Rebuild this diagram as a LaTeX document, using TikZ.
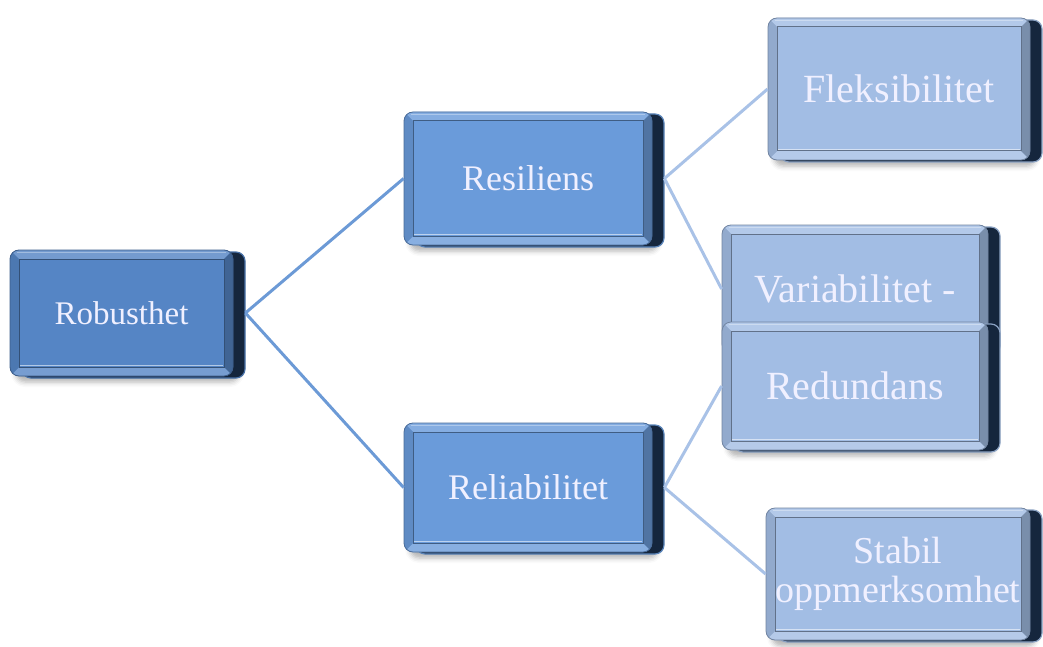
\documentclass[tikz,border=0pt]{standalone}
\usepackage{fontspec}
\setmainfont{Liberation Serif}
\usetikzlibrary{shadows,shadows.blur,calc}
\definecolor{lvA}{HTML}{5585C5}
\definecolor{lvB}{HTML}{6A9BDA}
\definecolor{lvC}{HTML}{A2BDE4}
\definecolor{ext}{HTML}{15263D}
\definecolor{lnA}{HTML}{6C9AD6}
\definecolor{lnB}{HTML}{A9C2E7}
\tikzset{
  bevelbox/.style={
    rounded corners=9pt, fill=#1, draw=#1!70!black, line width=0.8pt,
    text=white!94!blue, align=center, inner sep=0pt,
    blur shadow={shadow xshift=6pt, shadow yshift=-6pt, shadow blur radius=5pt, shadow opacity=30},
    general shadow={shadow xshift=12pt, shadow yshift=-2pt, fill=ext, draw=#1!85!black, line width=1.2pt},
    path picture={
      \path (path picture bounding box.south west) coordinate (sw)
            (path picture bounding box.north east) coordinate (ne);
      \fill[sharp corners, #1!82!white] (sw|-ne) -- (ne) -- ($(ne)+(-9pt,-9pt)$) -- ($(sw|-ne)+(9pt,-9pt)$) -- cycle;
      \fill[sharp corners, #1!80!white] (sw) -- (ne|-sw) -- ($(ne|-sw)+(-9pt,9pt)$) -- ($(sw)+(9pt,9pt)$) -- cycle;
      \fill[sharp corners, #1!90!black] (sw) -- (sw|-ne) -- ($(sw|-ne)+(9pt,-9pt)$) -- ($(sw)+(9pt,9pt)$) -- cycle;
      \fill[sharp corners, #1!75!black] (ne|-sw) -- (ne) -- ($(ne)+(-9pt,-9pt)$) -- ($(ne|-sw)+(-9pt,9pt)$) -- cycle;
      \draw[sharp corners, #1!60!black, line width=1pt] ($(sw)+(9pt,9pt)$) rectangle ($(ne)+(-9pt,-9pt)$);
      \draw[sharp corners, white!55!#1, line width=1.6pt] ($(sw)+(10pt,10.5pt)$) -- ($(ne|-sw)+(-10pt,10.5pt)$);
      \draw[sharp corners, white!45!#1, line width=1pt] ($(sw|-ne)+(7pt,-2.5pt)$) -- ($(ne)+(-7pt,-2.5pt)$);
    }
  },
  linkA/.style={draw=lnA, line width=3pt},
  linkB/.style={draw=lnB, line width=3pt},
  fA/.style={font=\fontsize{33}{38}\selectfont},
  fB/.style={font=\fontsize{36}{40}\selectfont},
  fC/.style={font=\fontsize{40}{42}\selectfont},
  fD/.style={font=\fontsize{38}{39}\selectfont},
}
\begin{document}
\begin{tikzpicture}[x=1pt,y=-1pt]
\useasboundingbox (0,0) rectangle (1043,647);
\node[bevelbox=lvA, fA, minimum width=223pt, minimum height=126pt] (rob) at (121.5,313) {Robusthet};
\node[bevelbox=lvB, fB, minimum width=248pt, minimum height=133pt] (res) at (528,178.5) {Resiliens};
\node[bevelbox=lvB, fB, minimum width=248pt, minimum height=129pt] (rel) at (528,487.5) {Reliabilitet};
\node[bevelbox=lvC, fC, minimum width=262pt, minimum height=142pt] (fle) at (899,89) {Fleksibilitet};
\node[bevelbox=lvC, fC, minimum width=266pt, minimum height=128pt] (var) at (855,289) {Variabilitet -};
\node[bevelbox=lvC, fC, minimum width=266pt, minimum height=128pt] (red) at (855,386) {Redundans};
\node[bevelbox=lvC, fD, minimum width=264pt, minimum height=132pt] (sta) at (898,574) {Stabil\\oppmerksomhet};
\draw[linkA] ($(rob.east)+(12pt,0)$) -- (res.west);
\draw[linkA] ($(rob.east)+(12pt,0)$) -- (rel.west);
\draw[linkB] ($(res.east)+(12pt,0)$) -- (fle.west);
\draw[linkB] ($(res.east)+(12pt,0)$) -- (var.west);
\draw[linkB] ($(rel.east)+(12pt,0)$) -- (red.west);
\draw[linkB] ($(rel.east)+(12pt,0)$) -- (sta.west);
\end{tikzpicture}
\end{document}
